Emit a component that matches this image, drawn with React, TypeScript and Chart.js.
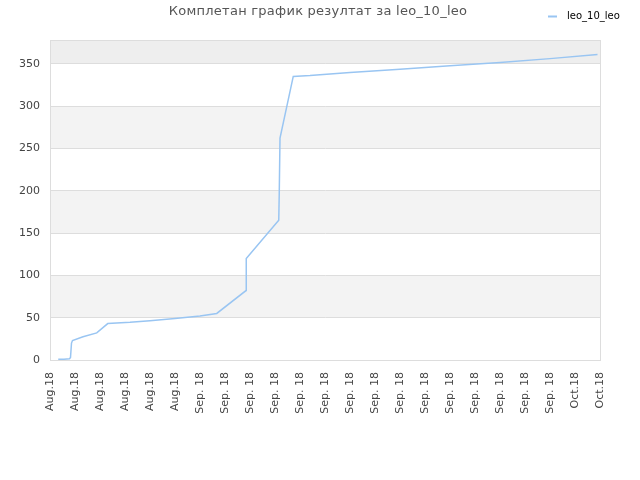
import { useEffect, useRef } from 'react';
import { Chart, registerables } from 'chart.js';

Chart.register(...registerables);

const title = 'Комплетан график резултат за leo_10_leo';
const seriesName = 'leo_10_leo';

// x tick labels, one per slot
const xLabels = [
  'Aug.18', 'Aug.18', 'Aug.18', 'Aug.18', 'Aug.18', 'Aug.18',
  'Sep. 18', 'Sep. 18', 'Sep. 18', 'Sep. 18', 'Sep. 18', 'Sep. 18', 'Sep. 18',
  'Sep. 18', 'Sep. 18', 'Sep. 18', 'Sep. 18', 'Sep. 18', 'Sep. 18', 'Sep. 18',
  'Sep. 18', 'Oct.18', 'Oct.18',
];

// points (x in label slots)
const xs = [
  0.33, 0.56, 0.78, 0.82, 0.86, 0.9, 1.32, 1.87, 2.31, 3.2, 4.0, 5.0, 6.0, 6.67,
  7.84, 7.85, 9.15, 9.17, 9.2, 9.73, 10.4, 12, 14, 16, 18, 20, 21.9,
];
const ys = [
  0.8, 1, 1.5, 3, 20, 23, 27.5, 32, 43, 44.5, 46.5, 49, 52, 55,
  82, 120, 165, 197, 262, 335, 336, 339.5, 343.5, 347.5, 351.5, 356, 361,
];

const yMax = 378;

const bandsPlugin = {
  id: 'bands',
  beforeDraw(chart: Chart) {
    const { ctx, chartArea } = chart;
    const y = chart.scales.y;
    ctx.save();
    for (let v = 0; v < yMax; v += 50) {
      const top = y.getPixelForValue(Math.min(v + 50, yMax));
      const bottom = y.getPixelForValue(v);
      const band = v / 50;
      let color = '';
      if (v + 50 > yMax) color = '#eeeeee';
      else if (band % 2 === 1) color = '#f3f3f3';
      if (color) {
        ctx.fillStyle = color;
        ctx.fillRect(chartArea.left, top, chartArea.right - chartArea.left, bottom - top);
      }
    }
    ctx.restore();
  },
  afterDraw(chart: Chart) {
    const { ctx, chartArea } = chart;
    ctx.save();
    ctx.strokeStyle = '#dddddd';
    ctx.lineWidth = 1;
    ctx.strokeRect(chartArea.left + 0.5, chartArea.top + 0.5, chartArea.right - chartArea.left, chartArea.bottom - chartArea.top);

    ctx.fillStyle = '#555555';
    ctx.font = '13px "DejaVu Sans"';
    (ctx as any).letterSpacing = '0.25px';
    ctx.textAlign = 'center';
    ctx.textBaseline = 'middle';
    ctx.fillText(title, 318, 12);
    (ctx as any).letterSpacing = '0px';

    ctx.strokeStyle = '#99c5f2';
    ctx.lineWidth = 2;
    ctx.beginPath();
    ctx.moveTo(548, 16.5);
    ctx.lineTo(557, 16.5);
    ctx.stroke();
    ctx.fillStyle = '#000000';
    ctx.font = '10px "DejaVu Sans"';
    ctx.textAlign = 'left';
    ctx.fillText(seriesName, 567, 16);
    ctx.restore();
  },
};

export default function App() {
  const canvasRef = useRef<HTMLCanvasElement>(null);

  useEffect(() => {
    if (!canvasRef.current) return;
    const chart = new Chart(canvasRef.current, {
      type: 'line',
      data: {
        datasets: [
          {
            label: seriesName,
            data: xs.map((x, i) => ({ x, y: ys[i] })),
            borderColor: '#99c5f2',
            borderWidth: 1.5,
            pointRadius: 0,
            tension: 0,
            fill: false,
          },
        ],
      },
      options: {
        responsive: false,
        animation: false,
        layout: { padding: { top: 40, right: 40, left: 0, bottom: 0 } },
        plugins: {
          legend: { display: false },
          title: { display: false },
          tooltip: { enabled: false },
        },
        scales: {
          x: {
            type: 'linear',
            min: 0,
            max: xLabels.length - 1,
            afterFit: (scale: any) => {
              scale.height = 120;
            },
            grid: { display: false, drawTicks: false },
            border: { color: '#dddddd' },
            ticks: {
              stepSize: 1,
              autoSkip: false,
              maxRotation: 90,
              minRotation: 90,
              padding: 12,
              color: '#444444',
              font: { family: 'DejaVu Sans', size: 11 },
              callback: (v: any) => xLabels[Math.round(Number(v))] ?? '',
            },
          },
          y: {
            min: 0,
            max: yMax,
            afterFit: (scale: any) => {
              scale.width = 50;
            },
            afterBuildTicks: (scale: any) => {
              scale.ticks = scale.ticks.filter((t: any) => t.value % 50 === 0);
            },
            grid: { color: '#dddddd', drawTicks: false },
            border: { color: '#dddddd' },
            ticks: {
              stepSize: 50,
              padding: 10,
              color: '#444444',
              font: { family: 'DejaVu Sans', size: 11 },
            },
          },
        },
      },
      plugins: [bandsPlugin],
    });
    return () => chart.destroy();
  }, []);

  return (
    <div style={{ position: 'absolute', left: 0, top: 0, width: 640, height: 480, background: '#fff' }}>
      <canvas ref={canvasRef} width={640} height={480} />
    </div>
  );
}
